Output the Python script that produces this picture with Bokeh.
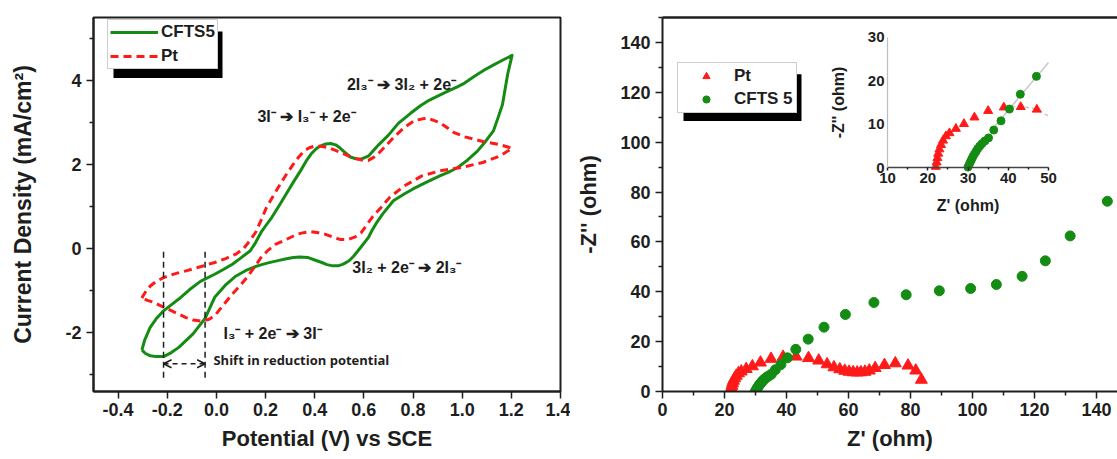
from bokeh.plotting import figure
from bokeh.layouts import row
from bokeh.models import (Range1d, LinearAxis, FixedTicker, PrintfTickFormatter,
                          Legend, LegendItem, BoxAnnotation, Label, Arrow, OpenHead)
from bokeh.core.properties import value
from bokeh.embed import file_html
from bokeh.resources import INLINE

FONT = "Liberation Sans"
GREEN = "#148c14"
RED = "#ff1a1a"
INK = "#1e1e1e"

# ---------------- (A) cyclic voltammograms ----------------
# CFTS5: anodic sweep (-0.3 V -> 1.2 V) then cathodic sweep back
cfts5_fwd_v = [-0.303, -0.292, -0.270, -0.245, -0.215, -0.180, -0.153, -0.110, -0.065, -0.007,
               0.030, 0.065, 0.100, 0.138, 0.160, 0.182, 0.205, 0.225, 0.255, 0.284,
               0.315, 0.342, 0.365, 0.385, 0.405, 0.422, 0.445, 0.465, 0.485, 0.502,
               0.525, 0.545, 0.567, 0.589, 0.620, 0.660, 0.700, 0.740, 0.790, 0.830,
               0.865, 0.900, 0.940, 0.980, 1.010, 1.050, 1.090, 1.130, 1.160, 1.203]
cfts5_fwd_j = [-2.41, -2.18, -1.88, -1.67, -1.48, -1.32, -1.20, -0.98, -0.78, -0.61,
               -0.49, -0.37, -0.22, -0.05, 0.15, 0.39, 0.58, 0.74, 1.02, 1.30,
               1.60, 1.85, 2.08, 2.25, 2.37, 2.44, 2.49, 2.50, 2.47, 2.40,
               2.28, 2.18, 2.14, 2.13, 2.21, 2.47, 2.70, 2.98, 3.22, 3.40,
               3.53, 3.63, 3.74, 3.85, 3.94, 4.10, 4.25, 4.38, 4.47, 4.60]
cfts5_rev_v = [1.203, 1.185, 1.164, 1.145, 1.127, 1.095, 1.062, 1.020, 0.982, 0.945,
               0.909, 0.851, 0.800, 0.764, 0.720, 0.676, 0.650, 0.633, 0.618, 0.590,
               0.560, 0.540, 0.516, 0.495, 0.473, 0.450, 0.429, 0.400, 0.371, 0.340,
               0.313, 0.285, 0.255, 0.210, 0.167, 0.120, 0.080, 0.040, -0.007, -0.046,
               -0.095, -0.153, -0.185, -0.215, -0.245, -0.269, -0.290, -0.303]
cfts5_rev_j = [4.60, 4.15, 3.43, 3.10, 2.80, 2.55, 2.32, 2.10, 1.93, 1.82,
               1.73, 1.57, 1.42, 1.30, 1.14, 0.82, 0.60, 0.43, 0.26, 0.05,
               -0.17, -0.29, -0.37, -0.41, -0.41, -0.38, -0.33, -0.27, -0.21, -0.20,
               -0.21, -0.24, -0.28, -0.34, -0.41, -0.52, -0.65, -0.85, -1.16, -1.66,
               -2.03, -2.35, -2.48, -2.57, -2.57, -2.55, -2.49, -2.41]

# Pt reference electrode
pt_fwd_v = [-0.303, -0.298, -0.285, -0.269, -0.245, -0.215, -0.170, -0.124, -0.065, -0.007,
            0.040, 0.080, 0.110, 0.135, 0.160, 0.182, 0.204, 0.230, 0.255, 0.285,
            0.313, 0.335, 0.356, 0.378, 0.400, 0.430, 0.458, 0.487, 0.516, 0.545,
            0.575, 0.600, 0.618, 0.640, 0.662, 0.690, 0.720, 0.764, 0.807, 0.858,
            0.909, 0.967, 1.011, 1.084, 1.156, 1.203]
pt_fwd_j = [-1.18, -1.12, -1.00, -0.89, -0.78, -0.69, -0.60, -0.53, -0.43, -0.33,
            -0.23, -0.13, 0.00, 0.18, 0.39, 0.68, 0.98, 1.24, 1.49, 1.77,
            2.01, 2.18, 2.32, 2.40, 2.44, 2.43, 2.40, 2.33, 2.26, 2.19,
            2.13, 2.10, 2.10, 2.17, 2.28, 2.45, 2.64, 2.88, 3.05, 3.11,
            3.00, 2.76, 2.66, 2.55, 2.47, 2.39]
pt_rev_v = [1.203, 1.156, 1.084, 0.996, 0.909, 0.836, 0.764, 0.705, 0.670, 0.633,
            0.610, 0.589, 0.565, 0.538, 0.502, 0.475, 0.444, 0.415, 0.385, 0.355,
            0.327, 0.285, 0.240, 0.210, 0.182, 0.155, 0.124, 0.095, 0.065, 0.030,
            -0.007, -0.030, -0.046, -0.065, -0.095, -0.124, -0.160, -0.196, -0.230, -0.254,
            -0.280, -0.303]
pt_rev_j = [2.39, 2.21, 2.05, 1.93, 1.85, 1.73, 1.49, 1.22, 0.98, 0.74,
            0.55, 0.38, 0.28, 0.22, 0.22, 0.27, 0.34, 0.38, 0.40, 0.38,
            0.34, 0.22, 0.10, -0.04, -0.21, -0.44, -0.69, -0.89, -1.08, -1.33,
            -1.60, -1.68, -1.71, -1.72, -1.70, -1.64, -1.54, -1.44, -1.35, -1.28,
            -1.23, -1.18]

cv_xticks = [-0.4, -0.2, 0.0, 0.2, 0.4, 0.6, 0.8, 1.0, 1.2, 1.4]
cv_yticks = [-2, 0, 2, 4]
cv_yminor = [-3, -1, 1, 3, 5]
CV_XLIM = (-0.5, 1.4)
CV_YLIM = (-3.4, 5.5)

# cathodic peak potentials of the I3-/I- couple (CFTS5, Pt)
shift_marks_v = [-0.215, -0.046]

cv_notes = ["2I\u2083\u207b \u2794 3I\u2082 + 2e\u207b",
            "3I\u207b \u2794 I\u2083\u207b + 2e\u207b",
            "3I\u2082 + 2e\u207b \u2794 2I\u2083\u207b",
            "I\u2083\u207b + 2e\u207b \u2794 3I\u207b"]
cv_note_v = [0.531, 0.167, 0.553, 0.029]
cv_note_j = [3.90, 3.15, -0.45, -2.03]

# ---------------- (B) Nyquist plots ----------------
pt_zre = [22.0, 22.2, 22.4, 22.6, 22.9, 23.3, 23.8, 24.5, 25.4, 27.0, 29.0, 31.6, 35.0,
          38.9, 43.1, 47.1, 50.4, 53.1, 55.3, 57.2, 58.8, 60.2, 61.5, 62.8, 64.0, 65.3,
          66.7, 68.6, 71.6, 75.1, 79.2, 81.7, 83.5]
pt_zim = [0.3, 1.3, 2.3, 3.3, 4.3, 5.3, 6.3, 7.3, 8.0, 9.0, 10.1, 11.6, 13.1,
          13.9, 14.0, 13.4, 12.4, 10.9, 9.7, 8.9, 8.3, 7.9, 7.7, 7.6, 7.7, 7.9,
          8.4, 9.4, 10.6, 11.3, 10.4, 8.4, 4.7]
cfts_zre = [30.0, 30.3, 30.6, 30.9, 31.2, 31.6, 32.0, 32.4, 32.9, 33.5, 34.2, 35.1, 36.4,
            38.2, 40.3, 43.0, 47.0, 52.1, 59.0, 68.2, 78.6, 89.3, 99.4, 107.7, 116.0,
            123.5, 131.5, 143.5]
cfts_zim = [0.2, 0.8, 1.4, 2.0, 2.6, 3.2, 3.8, 4.4, 5.0, 5.6, 6.2, 6.9, 8.7,
            10.8, 13.5, 16.9, 21.0, 25.8, 30.9, 35.7, 38.8, 40.4, 41.3, 42.9, 46.2,
            52.4, 62.4, 76.3]
# equivalent-circuit fits shown in the high-frequency inset
cfts_fit_zre = [36.0, 50.0]
cfts_fit_zim = [8.8, 24.2]
pt_fit_zre = [39.0, 43.0, 47.0, 50.0]
pt_fit_zim = [13.9, 14.2, 13.5, 11.9]

eis_ticks = [0, 20, 40, 60, 80, 100, 120, 140]
eis_minor = [10, 30, 50, 70, 90, 110, 130, 150]
inset_xticks = [10, 20, 30, 40, 50]
inset_xminor = [15, 25, 35, 45]
inset_yticks = [0, 10, 20, 30]
INSET_XLIM = (10, 50)
INSET_YLIM = (0, 30)


def style_axis(ax, tick_size="18px", label_size="22px", tick_out=7, minor_out=4):
    ax.axis_line_color = INK
    ax.axis_line_width = 2
    ax.major_tick_line_color = INK
    ax.major_tick_line_width = 1.5
    ax.major_tick_in = 0
    ax.major_tick_out = tick_out
    ax.minor_tick_line_color = INK
    ax.minor_tick_line_width = 1.5
    ax.minor_tick_in = 0
    ax.minor_tick_out = minor_out
    ax.major_label_text_font = FONT
    ax.major_label_text_font_style = "bold"
    ax.major_label_text_font_size = tick_size
    ax.major_label_text_color = INK
    ax.axis_label_text_font = FONT
    ax.axis_label_text_font_style = "bold"
    ax.axis_label_text_font_size = label_size
    ax.axis_label_text_color = INK


def legend_box(items, loc, glyph_width, padding, spacing):
    return Legend(items=items, location=loc, margin=0, padding=padding, spacing=spacing,
                  glyph_width=glyph_width, glyph_height=18, label_height=18,
                  label_standoff=3, label_text_font=FONT, label_text_font_style="bold",
                  label_text_font_size="17px", label_text_color=INK,
                  border_line_color="#9a9a9a", border_line_width=1,
                  background_fill_color="white", background_fill_alpha=1.0)


# ---------- panel A ----------
A_W, A_H = 570, 459
A_L, A_R, A_T, A_B = 93, 10, 14, 68
pa = figure(width=A_W, height=A_H, x_range=Range1d(*CV_XLIM), y_range=Range1d(*CV_YLIM),
            output_backend="svg", toolbar_location=None,
            min_border_left=A_L, min_border_right=A_R, min_border_top=A_T, min_border_bottom=A_B,
            background_fill_color="white", border_fill_color="white")
pa.grid.visible = False
pa.outline_line_color = INK
pa.outline_line_width = 2
pa.xaxis.ticker = FixedTicker(ticks=cv_xticks, minor_ticks=[])
pa.xaxis.formatter = PrintfTickFormatter(format="%.1f")
pa.yaxis.ticker = FixedTicker(ticks=cv_yticks, minor_ticks=cv_yminor)
pa.yaxis.formatter = PrintfTickFormatter(format="%d")
pa.xaxis.axis_label = "Potential (V) vs SCE"
pa.yaxis.axis_label = "Current Density (mA/cm\u00b2)"
for ax in pa.xaxis + pa.yaxis:
    style_axis(ax)
pa.yaxis.axis_label_text_font_size = "23px"
pa.xaxis.major_label_standoff = 4
pa.xaxis.axis_label_standoff = 7
pa.yaxis.major_label_standoff = 5
pa.yaxis.axis_label_standoff = 26

g_cv = pa.line(cfts5_fwd_v + cfts5_rev_v[1:], cfts5_fwd_j + cfts5_rev_j[1:],
               line_color=GREEN, line_width=3, line_join="round")
r_cv = pa.line(pt_fwd_v + pt_rev_v[1:], pt_fwd_j + pt_rev_j[1:],
               line_color=RED, line_width=3, line_dash="8 5", line_join="round")

# reduction-peak markers and the shift arrow between them
pa.segment(x0=shift_marks_v, y0=[-3.07] * 2, x1=shift_marks_v, y1=[-0.05] * 2,
           line_color=INK, line_width=1.5, line_dash="6 4")
pa.add_layout(Arrow(start=OpenHead(size=8, line_width=1.5, line_color=INK),
                    end=OpenHead(size=8, line_width=1.5, line_color=INK),
                    x_start=shift_marks_v[0], y_start=-2.74,
                    x_end=shift_marks_v[1], y_end=-2.74,
                    line_color=INK, line_width=1.5, line_dash="5 4"))
pa.text(x=cv_note_v, y=cv_note_j, text=cv_notes, text_font=value(FONT),
        text_font_style="bold", text_font_size="16px", text_color=INK,
        text_baseline="middle", text_align="left")
pa.text(x=[-0.012], y=[-2.66], text=["Shift in reduction potential"],
        text_font=value("Open Sans"), text_font_style="bold", text_font_size="13px",
        text_color=INK, text_baseline="middle", text_align="left")

a_fw = A_W - A_L - A_R
a_fh = A_H - A_T - A_B


def a_x(px):
    return CV_XLIM[0] + (px - A_L) / a_fw * (CV_XLIM[1] - CV_XLIM[0])


def a_y(py):
    return CV_YLIM[1] - (py - A_T) / a_fh * (CV_YLIM[1] - CV_YLIM[0])


pa.add_layout(BoxAnnotation(left=a_x(113), right=a_x(222), top=a_y(28), bottom=a_y(75),
                            fill_color="black", fill_alpha=1.0, line_color=None))
pa.add_layout(legend_box([LegendItem(label="CFTS5", renderers=[g_cv]),
                          LegendItem(label="Pt", renderers=[r_cv])],
                         loc=(14, a_fh - (69 - A_T)), glyph_width=48, padding=2, spacing=4))
pa.add_layout(Label(x=CV_XLIM[0], y=CV_YLIM[1], x_offset=9 - A_L, y_offset=-(33 - A_T),
                    text="(A)", text_font=FONT, text_font_style="bold",
                    text_font_size="22px", text_color=INK, text_baseline="middle"))

# ---------- panel B ----------
B_W, B_H = 547, 459
B_L, B_R, B_T, B_B = 92, 0, 17, 66
OHM_PX = 3.1           # horizontal pixels per ohm
b_fw = B_W - B_L - B_R
b_fh = B_H - B_T - B_B
B_XLIM = (0, b_fw / OHM_PX)
B_YLIM = (0, 150)

pb = figure(width=B_W, height=B_H, x_range=Range1d(*B_XLIM), y_range=Range1d(*B_YLIM),
            output_backend="svg", toolbar_location=None,
            min_border_left=B_L, min_border_right=B_R, min_border_top=B_T, min_border_bottom=B_B,
            background_fill_color="white", border_fill_color="white")
pb.grid.visible = False
pb.outline_line_color = None
pb.xaxis.ticker = FixedTicker(ticks=eis_ticks, minor_ticks=eis_minor)
pb.yaxis.ticker = FixedTicker(ticks=eis_ticks, minor_ticks=eis_minor)
pb.xaxis.axis_label = "Z' (ohm)"
pb.yaxis.axis_label = "-Z'' (ohm)"
for ax in pb.xaxis + pb.yaxis:
    style_axis(ax)
pb.xaxis.major_label_standoff = 4
pb.xaxis.axis_label_standoff = 7
pb.yaxis.major_label_standoff = 5
pb.yaxis.axis_label_standoff = 16

top_line = LinearAxis(ticker=FixedTicker(ticks=[], minor_ticks=[]),
                      major_label_text_font_size="0px", axis_line_color=INK,
                      axis_line_width=2.5, major_tick_line_color=None,
                      minor_tick_line_color=None)
pb.add_layout(top_line, "above")

r_pt = pb.scatter(pt_zre, pt_zim, marker="triangle", size=12, fill_color=RED,
                  line_color=RED)
r_cf = pb.scatter(cfts_zre, cfts_zim, marker="circle", size=10, fill_color=GREEN,
                  line_color=GREEN)


def b_x(px):
    return B_XLIM[0] + (px - (570 + B_L)) / b_fw * (B_XLIM[1] - B_XLIM[0])


def b_y(py):
    return B_YLIM[1] - (py - B_T) / b_fh * (B_YLIM[1] - B_YLIM[0])


pb.add_layout(BoxAnnotation(left=b_x(683), right=b_x(801), top=b_y(74), bottom=b_y(121),
                            fill_color="black", fill_alpha=1.0, line_color=None))
pb.add_layout(legend_box([LegendItem(label="Pt", renderers=[r_pt]),
                          LegendItem(label="CFTS 5", renderers=[r_cf])],
                         loc=(15, b_fh - (115 - B_T)), glyph_width=50, padding=3, spacing=3))
pb.add_layout(Label(x=B_XLIM[0], y=B_YLIM[1], x_offset=578 - (570 + B_L), y_offset=-(29 - B_T),
                    text="(B)", text_font=FONT, text_font_style="bold",
                    text_font_size="22px", text_color=INK, text_baseline="middle"))


# inset: its own ranges, mapped onto a sub-rectangle of the frame
def span_range(v0, v1, p0, p1, length):
    k = (v1 - v0) / (p1 - p0)
    return Range1d(start=v0 - p0 * k, end=v0 + (length - p0) * k)


ins_x0 = 887 - (570 + B_L)          # frame-local px of Z' = 10
ins_x1 = 1048 - (570 + B_L)         # frame-local px of Z' = 50
ins_y0 = (B_T + b_fh) - 168.3       # px above frame bottom of -Z'' = 0
ins_y1 = (B_T + b_fh) - 36.7        # px above frame bottom of -Z'' = 30
pb.extra_x_ranges = {"ix": span_range(INSET_XLIM[0], INSET_XLIM[1], ins_x0, ins_x1, b_fw)}
pb.extra_y_ranges = {"iy": span_range(INSET_YLIM[0], INSET_YLIM[1], ins_y0, ins_y1, b_fh)}

ix_axis = LinearAxis(x_range_name="ix", y_range_name="iy", fixed_location=INSET_YLIM[0],
                     bounds=INSET_XLIM, axis_label="Z' (ohm)",
                     ticker=FixedTicker(ticks=inset_xticks, minor_ticks=inset_xminor))
style_axis(ix_axis, tick_size="15px", label_size="16px", tick_out=3, minor_out=2)
ix_axis.axis_line_width = 1.5
ix_axis.axis_line_color = "#444444"
ix_axis.major_label_standoff = 2
ix_axis.axis_label_standoff = 11
pb.add_layout(ix_axis, "below")

iy_axis = LinearAxis(x_range_name="ix", y_range_name="iy", fixed_location=INSET_XLIM[0],
                     bounds=INSET_YLIM, axis_label="-Z'' (ohm)",
                     ticker=FixedTicker(ticks=inset_yticks, minor_ticks=[]))
style_axis(iy_axis, tick_size="15px", label_size="16px", tick_out=0, minor_out=0)
iy_axis.axis_line_width = 1.2
iy_axis.axis_line_color = "#bdbdbd"
iy_axis.major_tick_line_color = None
iy_axis.major_label_standoff = 3
iy_axis.axis_label_standoff = 18
pb.add_layout(iy_axis, "left")

pb.line(cfts_fit_zre, cfts_fit_zim, x_range_name="ix", y_range_name="iy",
        line_color="#c8c8c8", line_width=1.5)
pb.line(pt_fit_zre, pt_fit_zim, x_range_name="ix", y_range_name="iy",
        line_color="#c8c8c8", line_width=1.5, line_dash="4 3")

ins_pt = [(x, y) for x, y in zip(pt_zre, pt_zim) if x <= INSET_XLIM[1] and y <= INSET_YLIM[1]]
ins_cf = [(x, y) for x, y in zip(cfts_zre, cfts_zim) if x <= INSET_XLIM[1] and y <= INSET_YLIM[1]]
pb.scatter([p[0] for p in ins_pt], [p[1] for p in ins_pt], x_range_name="ix", y_range_name="iy",
           marker="triangle", size=9, fill_color=RED, line_color=RED)
pb.scatter([p[0] for p in ins_cf], [p[1] for p in ins_cf], x_range_name="ix", y_range_name="iy",
           marker="circle", size=8, fill_color=GREEN, line_color=GREEN)

layout = row(pa, pb)
open("out.html", "w").write(file_html(layout, INLINE))
